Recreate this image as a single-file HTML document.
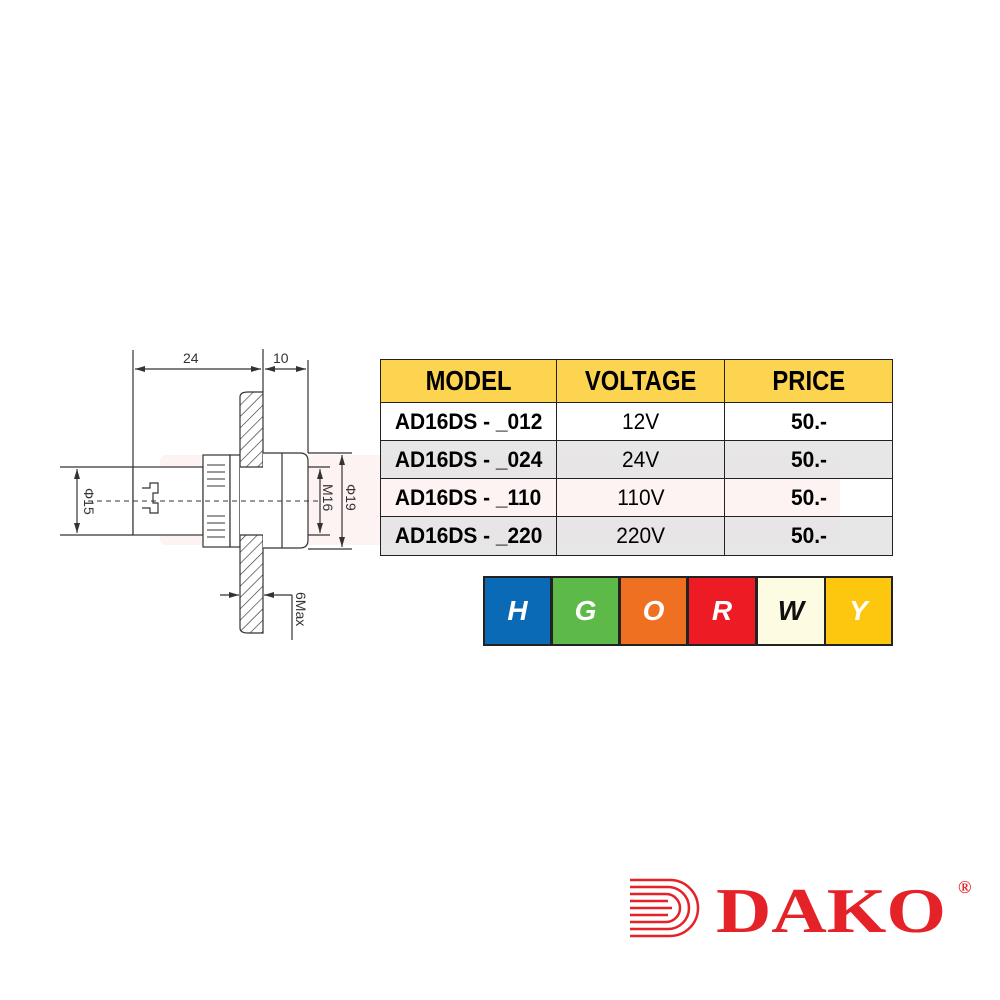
<!DOCTYPE html>
<html><head><meta charset="utf-8"><style>
body{margin:0;width:1000px;height:1000px;background:#fff;position:relative;overflow:hidden;font-family:"Liberation Sans",sans-serif}
.c{position:absolute;box-sizing:border-box;display:flex;align-items:center;justify-content:center}
.n{display:inline-block;transform:scaleX(0.95);white-space:nowrap}
.hd .n{transform:scaleX(0.85)}
</style></head><body>
<svg width="1000" height="1000" style="position:absolute;left:0;top:0">
<defs>
<pattern id="h" patternUnits="userSpaceOnUse" width="8" height="8" patternTransform="rotate(45)">
<rect width="8" height="8" fill="#fff"/><line x1="0" y1="0" x2="0" y2="8" stroke="#333" stroke-width="1.3"/></pattern>
<marker id="a" markerWidth="10" markerHeight="6" refX="10" refY="3" orient="auto-start-reverse" markerUnits="userSpaceOnUse"><path d="M0,0 L10,3 L0,6z" fill="#333"/></marker>
</defs>
<g opacity="0.06" fill="#e33">
<rect x="160" y="455" width="680" height="90" rx="6"/>
</g>
<g stroke="#333" stroke-width="1.2" fill="none">
<line x1="133" y1="350" x2="133" y2="535"/>
<line x1="263" y1="349" x2="263" y2="392"/>
<line x1="308" y1="360" x2="308" y2="453"/>
<line x1="135" y1="369" x2="261" y2="369" marker-start="url(#a)" marker-end="url(#a)"/>
<line x1="265" y1="369" x2="306" y2="369" marker-start="url(#a)" marker-end="url(#a)"/>
<rect x="133" y="467" width="70" height="68" fill="#fff"/>
<path d="M142,488 h8 v-5 h8 v10 h-5 v10 h5 v10 h-8 v-5 h-8" />
<rect x="203" y="455" width="27" height="92" fill="#fff"/>
<path d="M207,465 h18 M207,472 h18 M207,479 h18 M207,486 h18 M207,516 h18 M207,523 h18 M207,530 h18 M207,537 h18" stroke-width="1"/>
<rect x="230" y="455" width="10" height="92" fill="#fff"/>
<path d="M240,397 Q240,392 248,392 L263,392 L263,633 L248,633 Q240,633 240,628 Z" fill="url(#h)"/>
<rect x="240" y="467" width="23" height="68" fill="#fff" stroke="none"/>
<line x1="240" y1="467" x2="263" y2="467"/><line x1="240" y1="535" x2="263" y2="535"/>
<path d="M263,453 H300 Q308,453 308,461 V540 Q308,548 300,548 H263" fill="#fff"/>
<line x1="282" y1="453" x2="282" y2="548"/>
<line x1="60" y1="467" x2="133" y2="467"/><line x1="60" y1="535" x2="133" y2="535"/>
<line x1="77" y1="469" x2="77" y2="533" marker-start="url(#a)" marker-end="url(#a)"/>
<line x1="308" y1="467" x2="330" y2="467"/><line x1="308" y1="535" x2="330" y2="535"/>
<line x1="320" y1="469" x2="320" y2="533" marker-start="url(#a)" marker-end="url(#a)"/>
<line x1="308" y1="453" x2="352" y2="453"/><line x1="308" y1="549" x2="352" y2="549"/>
<line x1="342" y1="455" x2="342" y2="547" marker-start="url(#a)" marker-end="url(#a)"/>
<line x1="88" y1="501" x2="318" y2="501" stroke-dasharray="5,4" stroke-width="1"/>
<line x1="220" y1="595" x2="239" y2="595" marker-end="url(#a)"/>
<line x1="292" y1="595" x2="264" y2="595" marker-end="url(#a)"/>
<line x1="292" y1="595" x2="292" y2="640"/>
</g>
<g font-family="Liberation Sans" font-size="14" fill="#333">
<text x="183" y="363">24</text><text x="273" y="363">10</text>
<text transform="translate(84,488) rotate(90)">Φ15</text>
<text transform="translate(323,484) rotate(90)">M16</text>
<text transform="translate(346,484) rotate(90)">Φ19</text>
<text transform="translate(296,592) rotate(90)">6Max</text>
</g>
<g stroke="#e52228" stroke-width="2.5" fill="none">
<path d="M630,880 H670 A28,28 0 0 1 670,936 H630"/>
<path d="M630,887 H668 A21,21 0 0 1 668,929 H630"/>
<path d="M630,894 H666 A14,14 0 0 1 666,922 H630"/>
<line x1="630" y1="901" x2="668" y2="901"/><line x1="630" y1="908" x2="672" y2="908"/><line x1="630" y1="915" x2="668" y2="915"/>
</g>
<text x="716" y="932" font-family="Liberation Serif" font-weight="bold" font-size="64" fill="#e52228" textLength="230" lengthAdjust="spacingAndGlyphs">DAKO</text>
<text x="958" y="893" font-family="Liberation Serif" font-weight="bold" font-size="18" fill="#e52228">®</text>
</svg>

<div style="position:absolute;left:380px;top:359px;width:513px;height:197px;border:1.5px solid #222;box-sizing:border-box"></div>
<div class="c hd" style="left:381px;top:360px;width:176px;height:43px;background:#fdd44f;border-right:1.5px solid #222;border-bottom:1.5px solid #222;font-weight:bold;font-size:28px"><span class="n">MODEL</span></div>
<div class="c hd" style="left:557px;top:360px;width:168px;height:43px;background:#fdd44f;border-right:1.5px solid #222;border-bottom:1.5px solid #222;font-weight:bold;font-size:28px"><span class="n">VOLTAGE</span></div>
<div class="c hd" style="left:725px;top:360px;width:167px;height:43px;background:#fdd44f;border-bottom:1.5px solid #222;font-weight:bold;font-size:28px"><span class="n">PRICE</span></div>

<div class="c" style="left:381px;top:403px;width:176px;height:38px;border-right:1.5px solid #222;border-bottom:1.5px solid #222;font-weight:bold;font-size:22px"><span class="n">AD16DS - _012</span></div>
<div class="c" style="left:557px;top:403px;width:168px;height:38px;border-right:1.5px solid #222;border-bottom:1.5px solid #222;font-size:22px"><span class="n">12V</span></div>
<div class="c" style="left:725px;top:403px;width:167px;height:38px;border-bottom:1.5px solid #222;font-weight:bold;font-size:22px"><span class="n">50.-</span></div>

<div class="c" style="left:381px;top:441px;width:176px;height:38px;background:rgba(225,225,225,.8);border-right:1.5px solid #222;border-bottom:1.5px solid #222;font-weight:bold;font-size:22px"><span class="n">AD16DS - _024</span></div>
<div class="c" style="left:557px;top:441px;width:168px;height:38px;background:rgba(225,225,225,.8);border-right:1.5px solid #222;border-bottom:1.5px solid #222;font-size:22px"><span class="n">24V</span></div>
<div class="c" style="left:725px;top:441px;width:167px;height:38px;background:rgba(225,225,225,.8);border-bottom:1.5px solid #222;font-weight:bold;font-size:22px"><span class="n">50.-</span></div>

<div class="c" style="left:381px;top:479px;width:176px;height:38px;border-right:1.5px solid #222;border-bottom:1.5px solid #222;font-weight:bold;font-size:22px"><span class="n">AD16DS - _110</span></div>
<div class="c" style="left:557px;top:479px;width:168px;height:38px;border-right:1.5px solid #222;border-bottom:1.5px solid #222;font-size:22px"><span class="n">110V</span></div>
<div class="c" style="left:725px;top:479px;width:167px;height:38px;border-bottom:1.5px solid #222;font-weight:bold;font-size:22px"><span class="n">50.-</span></div>

<div class="c" style="left:381px;top:517px;width:176px;height:38px;background:rgba(225,225,225,.8);border-right:1.5px solid #222;font-weight:bold;font-size:22px"><span class="n">AD16DS - _220</span></div>
<div class="c" style="left:557px;top:517px;width:168px;height:38px;background:rgba(225,225,225,.8);border-right:1.5px solid #222;font-size:22px"><span class="n">220V</span></div>
<div class="c" style="left:725px;top:517px;width:167px;height:38px;background:rgba(225,225,225,.8);font-weight:bold;font-size:22px"><span class="n">50.-</span></div>

<div style="position:absolute;left:483px;top:576px;width:410px;height:70px;background:#222"></div>
<div class="c" style="left:485px;top:578px;width:65px;height:66px;background:#0b6ab5;color:#fff;font-weight:bold;font-style:italic;font-size:28px">H</div>
<div class="c" style="left:553px;top:578px;width:65px;height:66px;background:#5db948;color:#fff;font-weight:bold;font-style:italic;font-size:28px">G</div>
<div class="c" style="left:621px;top:578px;width:65px;height:66px;background:#f07022;color:#fff;font-weight:bold;font-style:italic;font-size:28px">O</div>
<div class="c" style="left:689px;top:578px;width:66px;height:66px;background:#ed1c24;color:#fff;font-weight:bold;font-style:italic;font-size:28px">R</div>
<div class="c" style="left:758px;top:578px;width:66px;height:66px;background:#fefbe3;color:#111;font-weight:bold;font-style:italic;font-size:28px">W</div>
<div class="c" style="left:826px;top:578px;width:65px;height:66px;background:#fdc70f;color:#fff;font-weight:bold;font-style:italic;font-size:28px">Y</div>
</body></html>
